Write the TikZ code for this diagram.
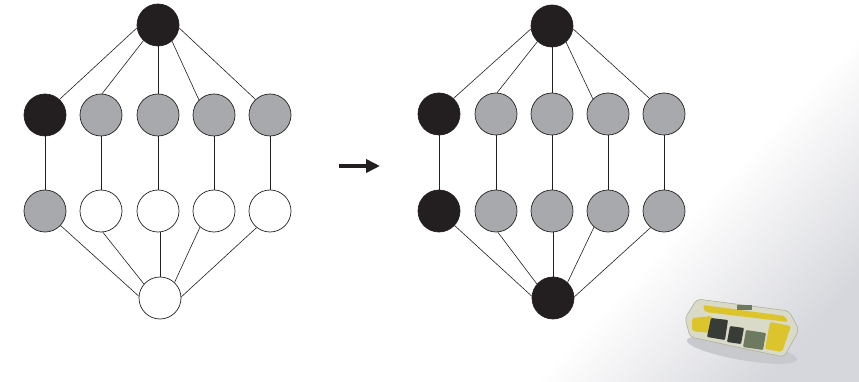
\documentclass[tikz,border=0pt]{standalone}
\usetikzlibrary{arrows.meta}
\definecolor{nblack}{RGB}{35,31,32}
\definecolor{ngrey}{RGB}{167,169,172}
\definecolor{snow}{RGB}{214,215,220}
\definecolor{snowshadow}{RGB}{200,201,204}
\definecolor{devyellow}{RGB}{220,196,45}
\definecolor{devcase}{RGB}{218,218,200}
\definecolor{devedge}{RGB}{175,175,160}
\definecolor{devdark}{RGB}{55,60,55}
\definecolor{devgreen}{RGB}{110,122,95}
\begin{document}
\begin{tikzpicture}[x=1pt,y=-1pt,
  vtx/.style={circle,draw=nblack,line width=0.7pt,minimum size=42pt,inner sep=0pt},
  blk/.style={vtx,fill=nblack},
  gry/.style={vtx,fill=ngrey},
  wht/.style={vtx,fill=white},
  edge/.style={draw=nblack,line width=0.6pt},
  bigarrow/.style={draw=nblack,line width=3.6pt,-{Triangle[length=14pt,width=13pt]}}]
\useasboundingbox (0,0) rectangle (859,382);
% photo background
\shade[top color=white, bottom color=snow, middle color=white, shading angle=47] (540,30) rectangle (859,382);
% device
\fill[snowshadow, rotate around={-10:(742,350)}] (742,350) ellipse [x radius=56pt, y radius=10pt];
\filldraw[draw=devedge, fill=devcase, line width=0.6pt, rounded corners=4pt]
  (697,299) -- (789,311) -- (799,330) -- (784,357) -- (690,337) -- (685,318) -- cycle;
\fill[devyellow, rounded corners=2pt] (703,305) -- (785,316) -- (788,322) -- (705,312) -- cycle;
\fill[devyellow, rounded corners=2pt] (770,322) -- (791,326) -- (782,352) -- (765,349) -- cycle;
\fill[devyellow, rounded corners=2pt] (692,318) -- (712,316) -- (710,333) -- (692,331) -- cycle;
\fill[devdark, rounded corners=1pt] (711,318) -- (728,320) -- (725,340) -- (707,337) -- cycle;
\fill[devdark, rounded corners=1pt] (730,326) -- (744,328) -- (741,344) -- (727,342) -- cycle;
\fill[devgreen, rounded corners=1pt] (746,330) -- (766,333) -- (763,350) -- (743,347) -- cycle;
\fill[devgreen] (737,305) rectangle (752,310);
% left graph
\node[blk] (T) at (158,25) {};
\node[blk] (a1) at (45,115) {};
\node[gry] (a2) at (101,115) {};
\node[gry] (a3) at (158,115) {};
\node[gry] (a4) at (214,115) {};
\node[gry] (a5) at (270,115) {};
\node[gry] (b1) at (45,211) {};
\node[wht] (b2) at (101,211) {};
\node[wht] (b3) at (158,211) {};
\node[wht] (b4) at (214,211) {};
\node[wht] (b5) at (270,211) {};
\node[wht] (B) at (160,298) {};
\draw[edge] (T.188) -- (a1.47);
\draw[edge] (T.227) -- (a2.87);
\draw[edge] (T.270) -- (a3.90);
\draw[edge] (T.311) -- (a4.135);
\draw[edge] (T.352) -- (a5.133);
\foreach \i in {1,...,5} \draw[edge] (a\i) -- (b\i);
\draw[edge] (b1.317) -- (B.175);
\draw[edge] (b2.275) -- (B.139);
\draw[edge] (b3.south -| B.north) -- (B.north);
\draw[edge] (b4.229) -- (B.47);
\draw[edge] (b5.231) -- (B.3);
% arrow
\coordinate (arrS) at (339,166);
\coordinate (arrE) at (380,166);
\draw[bigarrow] (arrS) -- (arrE);
% right graph
\node[blk] (T2) at (552,26) {};
\node[blk] (c1) at (439,114) {};
\node[gry] (c2) at (496,114) {};
\node[gry] (c3) at (552,114) {};
\node[gry] (c4) at (608,114) {};
\node[gry] (c5) at (664,114) {};
\node[blk] (d1) at (439,211) {};
\node[gry] (d2) at (496,211) {};
\node[gry] (d3) at (552,211) {};
\node[gry] (d4) at (608,211) {};
\node[gry] (d5) at (664,211) {};
\node[blk] (B2) at (553,298) {};
\draw[edge] (T2.188) -- (c1.47);
\draw[edge] (T2.227) -- (c2.87);
\draw[edge] (T2.270) -- (c3.90);
\draw[edge] (T2.311) -- (c4.135);
\draw[edge] (T2.352) -- (c5.133);
\foreach \i in {1,...,5} \draw[edge] (c\i) -- (d\i);
\draw[edge] (d1.317) -- (B2.175);
\draw[edge] (d2.275) -- (B2.139);
\draw[edge] (d3.south -| B2.north) -- (B2.north);
\draw[edge] (d4.229) -- (B2.47);
\draw[edge] (d5.231) -- (B2.3);
\end{tikzpicture}
\end{document}
